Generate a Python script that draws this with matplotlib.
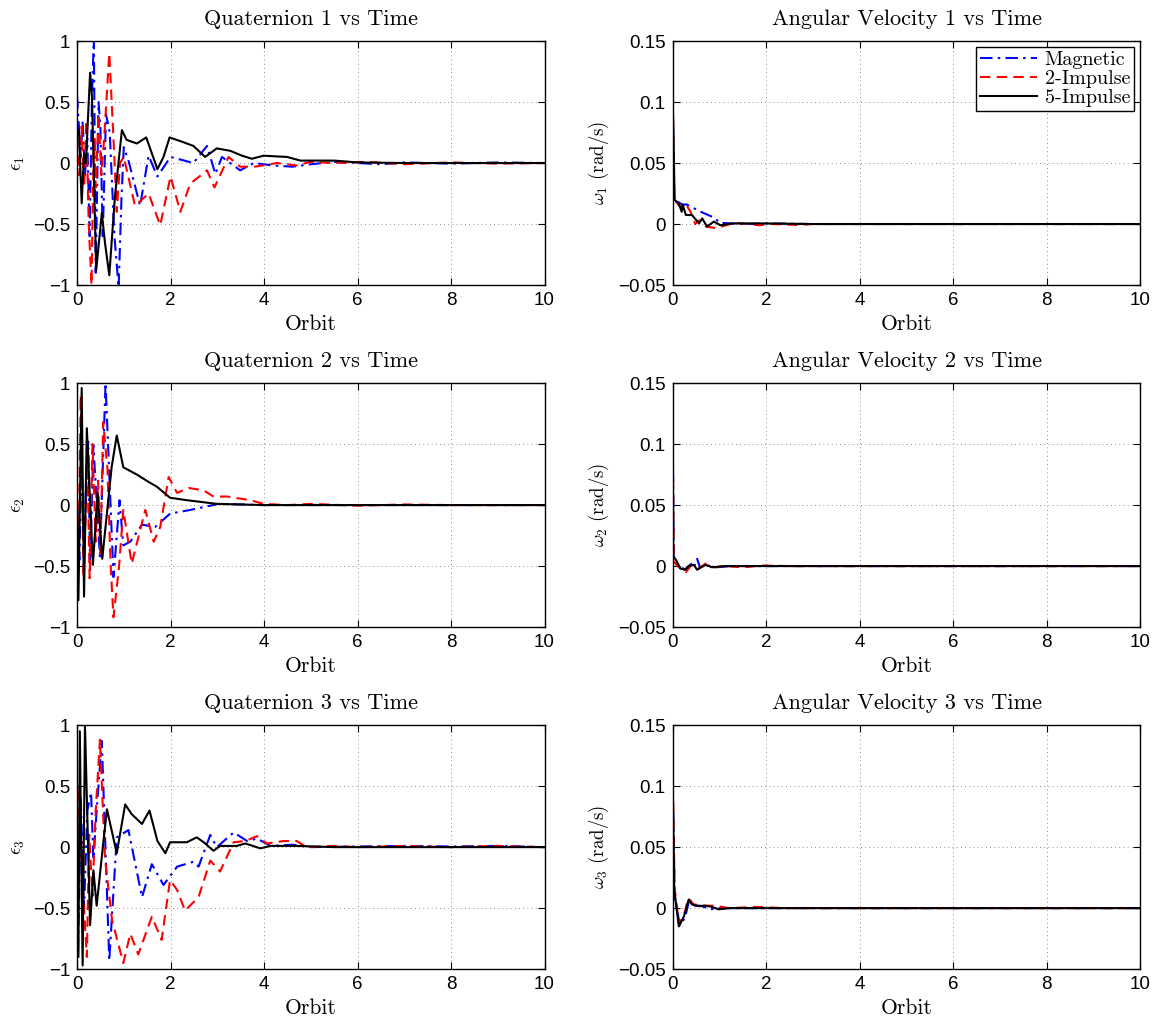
import matplotlib
matplotlib.use("Agg")
import matplotlib.pyplot as plt

# ---- datos (tiempo en orbitas, valor) ----
# Cuaternion 1
q1_mag_t = [0, 0.04, 0.08, 0.12, 0.17, 0.22, 0.27, 0.32, 0.36, 0.40, 0.46, 0.50, 0.55, 0.62, 0.70, 0.80, 0.89, 0.95, 1.0, 1.1, 1.35, 1.53, 1.72, 2.0, 2.49, 2.78, 2.96, 3.1, 3.49, 3.78, 4.2, 4.6, 5.0, 5.5, 6.0, 6.5, 7.0, 8.0, 9.0, 10.0]
q1_mag_v = [0.55, 0.3, 0.05, 0.35, -0.1, 0.2, -0.6, 0.55, 1.02, -0.9, 0.5, 0.3, -0.6, 0.4, 0.25, -0.6, -1.02, -0.3, 0.13, 0.02, -0.35, 0.06, -0.11, 0.05, 0.0, 0.14, -0.09, 0.05, -0.06, 0.0, -0.02, -0.03, -0.01, 0.01, 0.0, -0.01, 0.005, -0.005, 0.005, 0.0]
q1_2imp_t = [0, 0.05, 0.1, 0.15, 0.2, 0.25, 0.31, 0.36, 0.40, 0.46, 0.52, 0.58, 0.69, 0.78, 0.85, 0.92, 1.0, 1.06, 1.24, 1.53, 1.78, 2.0, 2.21, 2.42, 2.78, 2.94, 3.24, 3.49, 3.8, 4.28, 4.7, 5.0, 5.5, 6.2, 7.0, 8.0, 9.0, 10.0]
q1_2imp_v = [0.2, -0.1, 0.3, -0.2, 0.35, -0.5, -1.0, 0.2, -0.2, 0.4, -0.1, 0.2, 0.9, 0.2, -0.4, 0.0, 0.05, -0.05, -0.35, -0.25, -0.51, -0.11, -0.4, -0.17, -0.06, -0.2, 0.05, -0.03, -0.03, 0.0, -0.02, 0.01, 0.0, 0.01, -0.01, 0.005, -0.005, 0.0]
q1_5imp_t = [0, 0.04, 0.1, 0.15, 0.19, 0.28, 0.32, 0.41, 0.53, 0.60, 0.69, 0.81, 0.96, 1.06, 1.28, 1.48, 1.72, 1.85, 1.98, 2.28, 2.49, 2.74, 2.99, 3.28, 3.53, 3.74, 3.99, 4.49, 4.78, 5.5, 6.0, 7.0, 8.0, 10.0]
q1_5imp_v = [0.27, 0.27, -0.33, 0.08, 0.0, 0.74, 0.54, -0.88, -0.41, -0.66, -0.92, -0.28, 0.27, 0.19, 0.16, 0.21, -0.05, 0.05, 0.21, 0.17, 0.14, 0.05, 0.12, 0.10, 0.06, 0.035, 0.06, 0.05, 0.02, 0.02, 0.005, 0.0, 0.0, 0.0]

# Cuaternion 2
q2_mag_t = [0, 0.05, 0.1, 0.15, 0.2, 0.24, 0.28, 0.35, 0.49, 0.61, 0.78, 0.91, 0.99, 1.14, 1.39, 1.67, 1.99, 2.42, 3.03, 4.0, 5.0, 6.0, 8.0, 10.0]
q2_mag_v = [0.0, -0.45, 0.4, -0.5, 0.3, 0.52, -0.53, 0.49, -0.42, 1.0, -0.59, 0.04, -0.33, -0.3, -0.16, -0.18, -0.07, -0.04, 0.01, 0.0, 0.0, 0.0, 0.0, 0.0]
q2_2imp_t = [0, 0.03, 0.08, 0.14, 0.22, 0.27, 0.33, 0.40, 0.45, 0.50, 0.56, 0.65, 0.72, 0.78, 0.9, 0.99, 1.17, 1.46, 1.64, 1.78, 1.96, 2.14, 2.39, 2.71, 2.92, 3.21, 3.71, 3.99, 4.5, 5.0, 6.0, 7.0, 8.0, 10.0]
q2_2imp_v = [0.0, -0.5, 0.9, -0.6, 0.4, -0.6, 0.5, -0.3, 0.2, -0.4, 0.68, 0.3, -0.5, -0.92, -0.5, -0.04, -0.48, -0.04, -0.30, -0.18, 0.23, 0.10, 0.14, 0.12, 0.07, 0.07, 0.04, 0.01, 0.0, 0.01, -0.005, 0.005, 0.0, 0.0]
q2_5imp_t = [0, 0.03, 0.1, 0.15, 0.21, 0.34, 0.44, 0.54, 0.74, 0.85, 0.99, 1.28, 1.53, 1.71, 1.99, 2.35, 2.99, 3.99, 5.0, 10.0]
q2_5imp_v = [0.0, -0.78, 0.96, -0.75, 0.63, -0.49, 0.1, -0.44, 0.31, 0.57, 0.31, 0.25, 0.19, 0.15, 0.06, 0.04, 0.01, 0.0, 0.0, 0.0]

# Cuaternion 3
q3_mag_t = [0, 0.02, 0.08, 0.15, 0.22, 0.30, 0.35, 0.42, 0.53, 0.69, 0.85, 1.1, 1.39, 1.6, 1.85, 2.14, 2.49, 2.6, 2.85, 2.99, 3.35, 3.64, 3.85, 4.14, 4.6, 5.0, 6.0, 7.0, 8.0, 9.0, 10.0]
q3_mag_v = [0.3, -0.9, 0.4, -0.5, 0.3, 0.45, -0.1, 0.3, 0.87, -0.93, 0.08, 0.14, -0.41, -0.14, -0.31, -0.16, -0.12, -0.16, 0.10, 0.0, 0.12, 0.05, 0.07, 0.01, 0.02, 0.0, 0.005, 0.01, 0.005, 0.01, 0.0]
q3_2imp_t = [0, 0.05, 0.12, 0.21, 0.26, 0.33, 0.40, 0.49, 0.6, 0.75, 0.99, 1.14, 1.31, 1.6, 1.81, 1.99, 2.14, 2.31, 2.6, 2.85, 3.06, 3.35, 3.6, 3.85, 4.06, 4.42, 4.7, 4.9, 5.5, 6.0, 7.0, 8.0, 9.0, 10.0]
q3_2imp_v = [0.1, 0.5, -0.3, -0.9, 0.1, -0.4, 0.3, 0.88, -0.1, -0.6, -0.95, -0.71, -0.88, -0.57, -0.76, -0.27, -0.35, -0.52, -0.41, -0.11, -0.2, 0.04, 0.05, 0.09, 0.03, 0.05, 0.05, 0.0, 0.01, 0.0, 0.01, 0.0, 0.01, 0.0]
q3_5imp_t = [0, 0.03, 0.06, 0.12, 0.17, 0.28, 0.35, 0.42, 0.56, 0.64, 0.85, 1.03, 1.17, 1.39, 1.55, 1.72, 1.89, 1.99, 2.35, 2.56, 2.71, 2.92, 3.06, 3.42, 3.6, 3.92, 4.14, 4.7, 5.5, 6.5, 8.0, 10.0]
q3_5imp_v = [0.0, -0.9, 0.95, -0.97, 1.0, -0.64, -0.19, -0.48, 0.03, 0.31, -0.05, 0.35, 0.27, 0.19, 0.30, 0.05, -0.05, 0.04, 0.04, 0.08, 0.04, -0.03, 0.01, 0.01, 0.03, -0.01, 0.01, 0.01, 0.0, 0.0, 0.0, 0.0]

# Velocidad angular 1
w1_mag_t = [0, 0.03, 0.2, 0.3, 0.6, 0.9, 1.0, 1.5, 2.0, 3.0, 4.0, 10.0]
w1_mag_v = [0.1, 0.02, 0.016, 0.016, 0.01, 0.005, 0.001, 0.0, 0.0005, 0.0, 0.0, 0.0]
w1_2imp_t = [0, 0.03, 0.2, 0.3, 0.38, 0.48, 0.56, 0.7, 0.95, 1.13, 1.35, 1.85, 2.1, 2.7, 3.0, 4.0, 10.0]
w1_2imp_v = [0.1, 0.02, 0.012, 0.015, 0.01, 0.0, 0.003, -0.002, -0.0035, -0.001, 0.001, -0.001, 0.0, -0.0008, 0.0, 0.0, 0.0]
w1_5imp_t = [0, 0.04, 0.13, 0.19, 0.21, 0.28, 0.41, 0.56, 0.63, 0.73, 0.88, 1.02, 1.27, 1.98, 3.0, 10.0]
w1_5imp_v = [0.1, 0.0197, 0.017, 0.01, 0.016, 0.0074, 0.0074, 0.0005, 0.0046, -0.002, 0.002, -0.001, 0.0005, 0.0005, 0.0, 0.0]

# Velocidad angular 2
w2_mag_t = [0, 0.02, 0.1, 0.25, 0.4, 0.45, 0.52, 0.58, 0.7, 0.9, 1.3, 2.0, 10.0]
w2_mag_v = [0.1, 0.006, 0.002, -0.003, 0.002, -0.001, 0.006, -0.001, 0.001, -0.001, 0.0, 0.0, 0.0]
w2_2imp_t = [0, 0.02, 0.1, 0.28, 0.4, 0.55, 0.7, 0.9, 1.1, 1.5, 1.9, 2.5, 10.0]
w2_2imp_v = [0.1, 0.004, 0.0, -0.005, 0.001, -0.002, 0.002, -0.001, 0.0, -0.001, 0.0005, 0.0, 0.0]
w2_5imp_t = [0, 0.01, 0.07, 0.16, 0.27, 0.34, 0.45, 0.52, 0.7, 0.84, 1.1, 2.0, 10.0]
w2_5imp_v = [0.1, 0.008, 0.005, -0.002, -0.003, 0.0, 0.001, -0.003, 0.001, -0.001, 0.0, 0.0, 0.0]

# Velocidad angular 3
w3_mag_t = [0, 0.04, 0.15, 0.26, 0.36, 0.42, 0.6, 0.8, 1.0, 1.5, 2.0, 10.0]
w3_mag_v = [0.1, 0.01, -0.014, -0.008, 0.008, 0.002, 0.002, -0.001, 0.0, 0.0, 0.0, 0.0]
w3_2imp_t = [0, 0.04, 0.13, 0.24, 0.33, 0.45, 0.7, 0.9, 1.2, 1.8, 2.4, 10.0]
w3_2imp_v = [0.1, 0.016, -0.013, -0.006, 0.008, 0.003, 0.002, 0.002, 0.0, 0.001, 0.0, 0.0]
w3_5imp_t = [0, 0.03, 0.13, 0.24, 0.34, 0.41, 0.56, 0.7, 0.84, 0.98, 1.2, 2.0, 10.0]
w3_5imp_v = [0.1, 0.015, -0.015, -0.0066, 0.007, 0.003, 0.0016, 0.002, 0.001, -0.001, 0.0, 0.0, 0.0]

series_labels = ['Magnetic', '2-Impulse', '5-Impulse']

plt.rcParams['mathtext.fontset'] = 'cm'
plt.rcParams['font.family'] = 'Liberation Sans'
plt.rcParams['axes.unicode_minus'] = True

fig = plt.figure(figsize=(11.6, 10.18), dpi=100)

izq, der, ancho = 0.0664, 0.580, 0.403
abajo = [0.720, 0.384, 0.048]
alto = 0.2397

quat = [(q1_mag_t, q1_mag_v, q1_2imp_t, q1_2imp_v, q1_5imp_t, q1_5imp_v),
        (q2_mag_t, q2_mag_v, q2_2imp_t, q2_2imp_v, q2_5imp_t, q2_5imp_v),
        (q3_mag_t, q3_mag_v, q3_2imp_t, q3_2imp_v, q3_5imp_t, q3_5imp_v)]
vel = [(w1_mag_t, w1_mag_v, w1_2imp_t, w1_2imp_v, w1_5imp_t, w1_5imp_v),
       (w2_mag_t, w2_mag_v, w2_2imp_t, w2_2imp_v, w2_5imp_t, w2_5imp_v),
       (w3_mag_t, w3_mag_v, w3_2imp_t, w3_2imp_v, w3_5imp_t, w3_5imp_v)]

estilos = [dict(color='#0000ff', linestyle=(0, (6, 2.5, 1.2, 2.5))),
           dict(color='#ff0000', linestyle=(0, (5, 3))),
           dict(color='black', linestyle='-')]


def preparar(ax, titulo, ylab, ylim, yticks, lpad):
    ax.set_xlim(0, 10)
    ax.set_ylim(*ylim)
    ax.set_xticks([0, 2, 4, 6, 8, 10])
    ax.set_yticks(yticks)
    ax.grid(True, linestyle=(0, (1, 4)), color='black', linewidth=0.6, alpha=0.6)
    ax.tick_params(direction='in', top=True, right=True, labelsize=13.5, length=5,
                   width=0.8, pad=5)
    for s in ax.spines.values():
        s.set_linewidth(1.0)
    ax.set_title(titulo, fontfamily='cmr10', fontsize=16, pad=11.5)
    ax.set_xlabel('Orbit', fontfamily='cmr10', fontsize=15.5, labelpad=4)
    ax.set_ylabel(ylab, fontfamily='cmr10', fontsize=13.5, labelpad=lpad)


for i in range(3):
    # cuaterniones
    ax = fig.add_axes([izq, abajo[i], ancho, alto])
    d = quat[i]
    for k in range(3):
        ax.plot(d[2 * k], d[2 * k + 1], linewidth=1.5, label=series_labels[k], **estilos[k])
    preparar(ax, 'Quaternion %d vs Time' % (i + 1), r'$\epsilon_%d$' % (i + 1),
             (-1, 1), [-1, -0.5, 0, 0.5, 1], 4)
    ax.set_yticklabels(['\u22121', '\u22120.5', '0', '0.5', '1'])

    # velocidades angulares
    ax = fig.add_axes([der, abajo[i], ancho, alto])
    d = vel[i]
    for k in range(3):
        ax.plot(d[2 * k], d[2 * k + 1], linewidth=1.5, label=series_labels[k], **estilos[k])
    preparar(ax, 'Angular Velocity %d vs Time' % (i + 1), r'$\omega_%d$ (rad/s)' % (i + 1),
             (-0.05, 0.15), [-0.05, 0, 0.05, 0.1, 0.15], 5)
    ax.set_yticklabels(['\u22120.05', '0', '0.05', '0.1', '0.15'])
    if i == 0:
        leg = ax.legend(loc='upper right', prop={'family': 'cmr10', 'size': 14.5},
                        fancybox=False, framealpha=1, edgecolor='black',
                        borderpad=0.2, labelspacing=0.05, handlelength=2.8,
                        handletextpad=0.4, borderaxespad=0.3)
        leg.get_frame().set_linewidth(1.0)

fig.savefig('out.png', dpi=100)
